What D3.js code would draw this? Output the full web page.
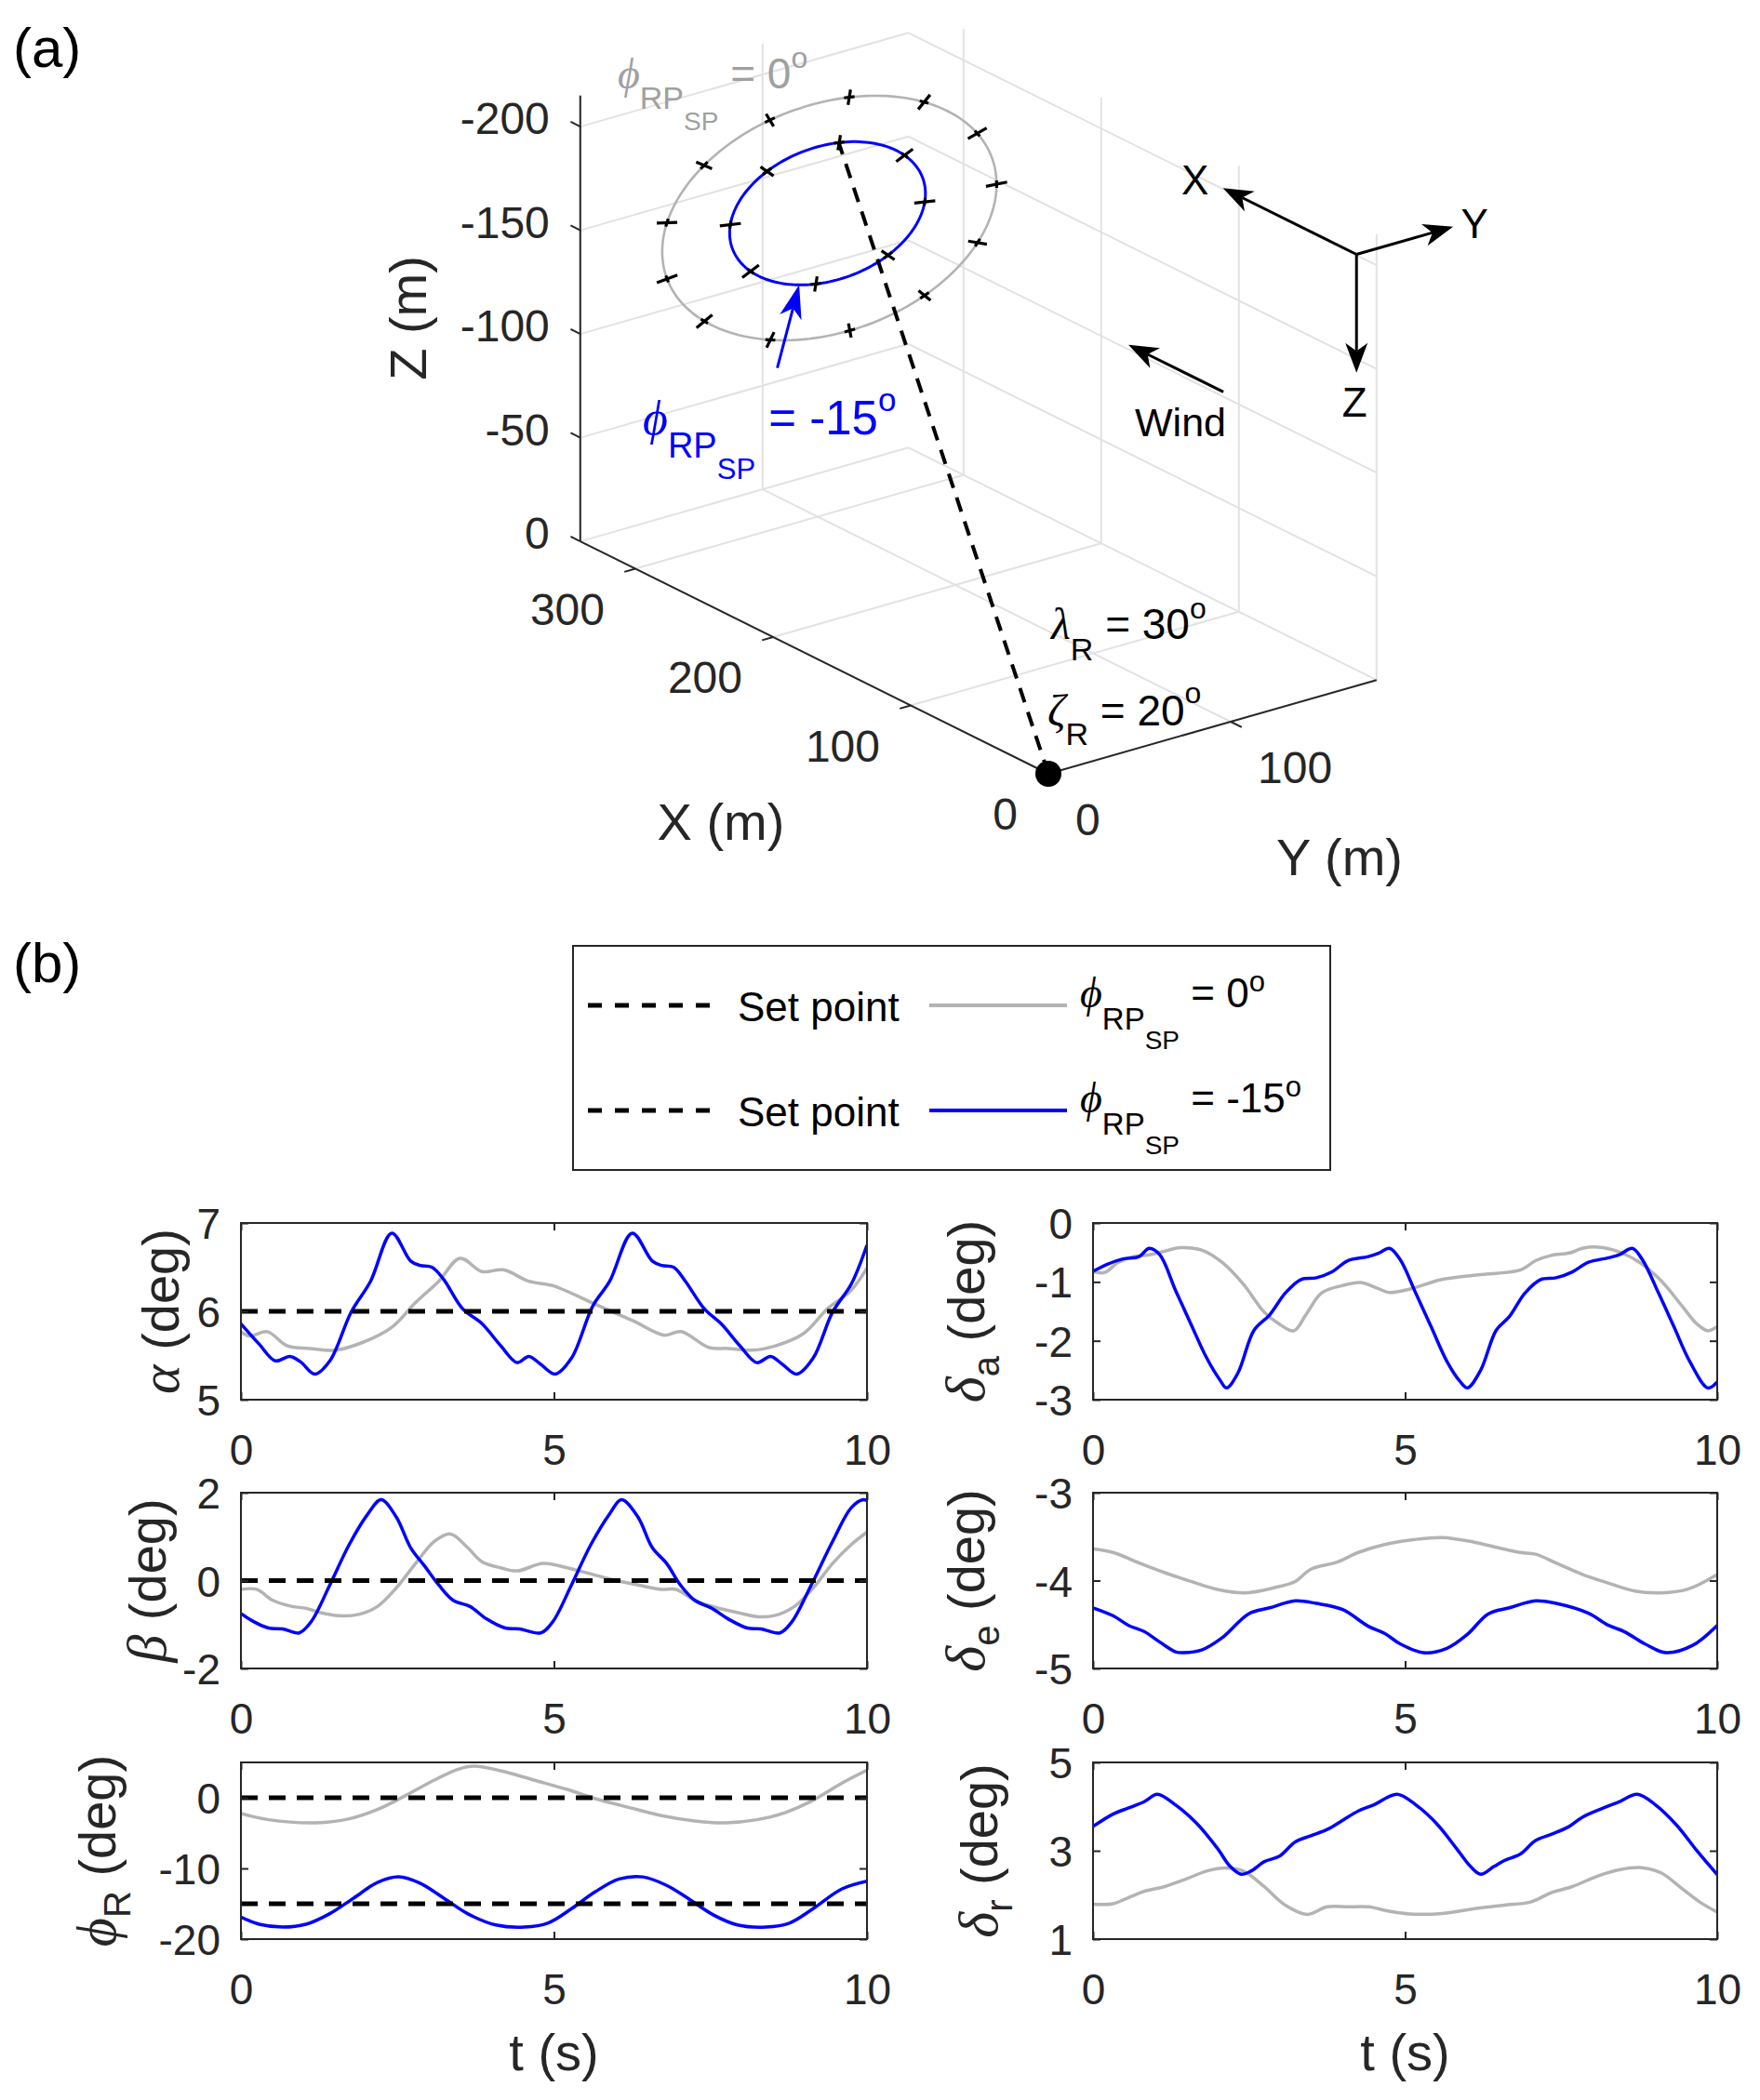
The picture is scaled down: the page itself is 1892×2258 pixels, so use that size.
<!DOCTYPE html>
<html><head><meta charset="utf-8">
<script src="https://cdn.jsdelivr.net/npm/d3@7/dist/d3.min.js"></script>
<style>
html,body{margin:0;padding:0;background:#fff;}
svg{display:block;}
text{white-space:pre;}
</style></head>
<body>
<svg id="fig" width="1892" height="2258" xmlns="http://www.w3.org/2000/svg"></svg>
<script>
// ======================= DATA =======================
// ---- Panel (a): 3-D view ----
const xLim3 = [0, 340];
const yLim3 = [0, 180];
const zLim3 = [-215, 0];
const xTicks3 = [0, 100, 200, 300];
const yTicks3 = [0, 100];
const zTicks3 = [0, -50, -100, -150, -200];
const tetherLambda = 30, tetherZeta = 20, tetherLength = 362;   // deg, deg, m
const pathCentreElev = 23, pathCentreAzim = 20;                   // deg
const pathGray = {dist: 355, radius: 76, markers: 13};
const pathBlue = {dist: 358, radius: 44.5, markers: 8};
const arrowTipAngle = 190;                 // deg on the blue circle
const arrowTailOffset = [0, -12, 37];      // m
const triadOrigin = [0, 169, -208];
const triadLengths = [97, 53, 57];
const windTail = [0, 96, -160];
const windLength = 69;

// ---- Panel (b): time histories [t (s), value (deg)] ----
const tDomain = [0, 10];
const tTicks = [0, 5, 10];

const alphaGray = [[0,5.77],[0.14,5.72],[0.42,5.77],[0.74,5.61],[1.1,5.58],[1.5,5.56],[1.95,5.65],[2.41,5.82],[2.79,6.10],[3.16,6.34],[3.5,6.60],[3.85,6.45],[4.19,6.47],[4.6,6.34],[4.98,6.29],[5.66,6.08],[6.27,5.89],[6.76,5.73],[7.03,5.77],[7.48,5.59],[7.78,5.58],[8.16,5.56],[8.54,5.61],[8.99,5.75],[9.37,6.03],[9.75,6.24],[10,6.49]];
const alphaBlue = [[0,5.86],[0.29,5.63],[0.55,5.44],[0.78,5.49],[0.95,5.43],[1.18,5.29],[1.42,5.44],[1.76,5.99],[2.07,6.34],[2.41,6.885],[2.71,6.57],[2.86,6.52],[3.05,6.50],[3.24,6.36],[3.54,6.03],[3.85,5.86],[4.15,5.61],[4.41,5.42],[4.6,5.49],[4.79,5.40],[5.02,5.29],[5.28,5.47],[5.62,6.06],[5.89,6.34],[6.25,6.885],[6.57,6.57],[6.72,6.52],[6.91,6.50],[7.1,6.34],[7.4,6.03],[7.67,5.86],[7.97,5.61],[8.24,5.42],[8.46,5.49],[8.65,5.40],[8.88,5.29],[9.14,5.47],[9.45,5.99],[9.75,6.31],[10,6.75]];
const alphaSet = [6];

const betaGray = [[0,-0.20],[0.25,-0.20],[0.51,-0.45],[0.82,-0.59],[1.04,-0.63],[1.27,-0.73],[1.57,-0.80],[1.88,-0.77],[2.18,-0.59],[2.48,-0.17],[2.79,0.39],[3.09,0.89],[3.35,1.06],[3.62,0.75],[3.85,0.43],[4.15,0.29],[4.41,0.22],[4.83,0.39],[5.21,0.29],[5.59,0.15],[5.97,0.01],[6.34,-0.10],[6.72,-0.20],[6.95,-0.20],[7.25,-0.45],[7.63,-0.63],[7.94,-0.73],[8.24,-0.82],[8.54,-0.79],[8.84,-0.59],[9.14,-0.17],[9.45,0.39],[9.75,0.82],[10,1.10]];
const betaBlue = [[0,-0.75],[0.21,-0.94],[0.44,-1.08],[0.67,-1.10],[0.93,-1.19],[1.12,-0.94],[1.42,-0.10],[1.73,0.82],[2.03,1.52],[2.24,1.84],[2.48,1.45],[2.71,0.75],[2.94,0.32],[3.16,-0.10],[3.39,-0.45],[3.66,-0.59],[3.92,-0.87],[4.22,-1.08],[4.45,-1.10],[4.79,-1.19],[4.98,-0.94],[5.28,-0.10],[5.59,0.82],[5.89,1.52],[6.08,1.84],[6.34,1.45],[6.57,0.75],[6.8,0.39],[7.02,-0.10],[7.25,-0.45],[7.52,-0.63],[7.78,-0.87],[8.09,-1.08],[8.31,-1.10],[8.61,-1.19],[8.8,-0.94],[9.11,-0.10],[9.45,0.89],[9.75,1.66],[9.94,1.84],[10,1.82]];
const betaSet = [0];

const phiGray = [[0,-2.24],[0.44,-3.11],[1.2,-3.55],[1.73,-2.98],[2.18,-1.67],[2.63,0.31],[3.09,2.50],[3.47,4.04],[3.73,4.47],[4.15,3.82],[4.68,2.50],[5.21,1.18],[5.66,-0.13],[6.19,-1.36],[6.72,-2.54],[7.25,-3.29],[7.74,-3.55],[8.24,-3.11],[8.69,-2.11],[9.14,-0.35],[9.6,2.06],[10,3.9]];
const phiBlue = [[0,-16.9],[0.29,-17.9],[0.67,-18.3],[1.04,-17.9],[1.42,-16.4],[1.8,-14.2],[2.18,-12.0],[2.52,-11.2],[2.86,-12.1],[3.24,-14.2],[3.62,-16.4],[4.07,-18.0],[4.53,-18.3],[4.91,-17.7],[5.28,-15.7],[5.66,-13.3],[6.04,-11.5],[6.42,-11.2],[6.8,-12.4],[7.17,-14.4],[7.55,-16.6],[7.93,-18.0],[8.39,-18.3],[8.77,-17.7],[9.14,-15.7],[9.6,-12.9],[10,-11.8]];
const phiSet = [0, -15];

const deltaAGray = [[0,-0.83],[0.19,-0.84],[0.4,-0.67],[0.65,-0.57],[0.9,-0.54],[1.11,-0.49],[1.4,-0.42],[1.74,-0.46],[2.07,-0.67],[2.41,-1.04],[2.74,-1.51],[2.99,-1.72],[3.22,-1.83],[3.41,-1.56],[3.66,-1.19],[4.0,-1.06],[4.29,-1.01],[4.58,-1.12],[4.75,-1.18],[5.08,-1.12],[5.59,-0.96],[6.17,-0.88],[6.84,-0.80],[7.09,-0.64],[7.34,-0.55],[7.63,-0.51],[7.84,-0.43],[8.09,-0.41],[8.43,-0.49],[8.76,-0.67],[9.1,-0.98],[9.43,-1.40],[9.68,-1.72],[9.85,-1.83],[10,-1.76]];
const deltaABlue = [[0,-0.82],[0.23,-0.70],[0.48,-0.61],[0.74,-0.57],[0.9,-0.43],[1.07,-0.54],[1.32,-1.14],[1.57,-1.72],[1.82,-2.29],[2.03,-2.66],[2.14,-2.80],[2.32,-2.55],[2.58,-1.82],[2.83,-1.56],[3.08,-1.19],[3.33,-0.96],[3.58,-0.93],[3.83,-0.83],[4.08,-0.64],[4.41,-0.57],[4.58,-0.51],[4.75,-0.43],[4.92,-0.62],[5.17,-1.19],[5.42,-1.77],[5.67,-2.35],[5.88,-2.69],[6.0,-2.80],[6.21,-2.50],[6.46,-1.82],[6.67,-1.59],[6.92,-1.19],[7.17,-0.96],[7.42,-0.93],[7.68,-0.83],[7.93,-0.67],[8.26,-0.59],[8.43,-0.54],[8.64,-0.43],[8.8,-0.62],[9.06,-1.19],[9.31,-1.77],[9.56,-2.35],[9.85,-2.80],[10,-2.70]];

const deltaEGray = [[0,-3.64],[0.32,-3.68],[0.74,-3.80],[1.15,-3.91],[1.57,-4.01],[1.99,-4.10],[2.45,-4.14],[2.91,-4.08],[3.24,-4.01],[3.49,-3.87],[3.91,-3.79],[4.25,-3.68],[4.67,-3.59],[5.08,-3.54],[5.59,-3.51],[6.09,-3.56],[6.51,-3.63],[6.84,-3.68],[7.09,-3.70],[7.42,-3.80],[7.84,-3.93],[8.26,-4.03],[8.68,-4.12],[9.1,-4.14],[9.52,-4.10],[10,-3.93]];
const deltaEBlue = [[0,-4.31],[0.32,-4.40],[0.57,-4.51],[0.82,-4.58],[1.07,-4.70],[1.32,-4.81],[1.45,-4.82],[1.74,-4.79],[2.07,-4.65],[2.49,-4.38],[2.83,-4.31],[3.24,-4.23],[3.58,-4.26],[4.0,-4.33],[4.41,-4.52],[4.67,-4.60],[4.92,-4.72],[5.29,-4.82],[5.67,-4.77],[6.0,-4.61],[6.33,-4.38],[6.67,-4.31],[7.09,-4.23],[7.42,-4.26],[7.93,-4.37],[8.26,-4.51],[8.51,-4.58],[8.84,-4.72],[9.18,-4.82],[9.6,-4.74],[10,-4.51]];

const deltaRGray = [[0,1.79],[0.32,1.80],[0.57,1.94],[0.82,2.08],[1.15,2.19],[1.49,2.36],[1.82,2.54],[2.12,2.61],[2.41,2.54],[2.74,2.19],[3.08,1.77],[3.43,1.56],[3.75,1.73],[4.08,1.73],[4.41,1.73],[4.75,1.63],[5.08,1.57],[5.59,1.58],[6.17,1.70],[6.59,1.77],[7.01,1.84],[7.34,2.05],[7.68,2.19],[8.09,2.43],[8.43,2.57],[8.76,2.62],[9.1,2.50],[9.43,2.15],[9.72,1.84],[10,1.61]];
const deltaRBlue = [[0,3.55],[0.32,3.83],[0.57,3.97],[0.82,4.11],[1.03,4.28],[1.32,4.04],[1.66,3.62],[1.99,3.06],[2.2,2.64],[2.37,2.47],[2.53,2.54],[2.74,2.75],[2.99,2.88],[3.24,3.20],[3.49,3.34],[3.75,3.48],[4.0,3.69],[4.25,3.90],[4.5,4.04],[4.87,4.28],[5.17,4.04],[5.5,3.62],[5.84,3.02],[6.05,2.64],[6.21,2.47],[6.42,2.64],[6.59,2.78],[6.84,2.92],[7.09,3.23],[7.34,3.37],[7.63,3.55],[7.84,3.76],[8.18,3.97],[8.43,4.11],[8.72,4.28],[9.01,4.04],[9.35,3.58],[9.68,2.99],[10,2.46]];

const legendValues = ['0', '-15'];

// ======================= STYLE / LAYOUT =======================
const FONT = '"Liberation Sans", Arial, Helvetica, sans-serif';
const GREEK = '"Liberation Serif", "DejaVu Serif", serif';
const AXC = '#262626';
const GRAYC = '#b3b3b3';
const GRAYTXT = '#a0a0a0';
const BLUEC = '#0000ff';

const svg = d3.select('#fig');
svg.append('rect').attr('width',1892).attr('height',2258).attr('fill','#fff');

function rich(g, x, y, parts, color) {
  const t = g.append('text').attr('x', x).attr('y', y).attr('fill', color).attr('font-family', FONT);
  parts.forEach(p => {
    const s = t.append('tspan').attr('font-size', p.size).attr('y', y + (p.dy || 0)).text(p.text);
    if (p.greek) s.attr('font-family', GREEK).attr('font-style', 'italic');
  });
  return t;
}
function arrow(g, from, to, len, wid, color, sw) {
  const dx = to[0]-from[0], dy = to[1]-from[1], L = Math.hypot(dx, dy);
  const ux = dx/L, uy = dy/L, nx = -uy, ny = ux;
  const bx = to[0]-ux*len, by = to[1]-uy*len;
  const mx = to[0]-ux*len*0.72, my = to[1]-uy*len*0.72;
  g.append('line').attr('x1',from[0]).attr('y1',from[1]).attr('x2',mx).attr('y2',my)
    .attr('stroke',color).attr('stroke-width',sw);
  const pts = [to, [bx+nx*wid/2, by+ny*wid/2], [mx, my], [bx-nx*wid/2, by-ny*wid/2]];
  g.append('path').attr('d','M'+pts.map(p=>p.join(',')).join('L')+'Z').attr('fill',color);
}

// ======================= PANEL (a) =======================
const gA = svg.append('g');
const origin2d = [1127, 832];
const sXpx = d3.scaleLinear().domain([0,100]).range([0,-148]);
const sXpy = d3.scaleLinear().domain([0,100]).range([0,-73.5]);
const sYpx = d3.scaleLinear().domain([0,100]).range([0,196]);
const sYpy = d3.scaleLinear().domain([0,100]).range([0,-56]);
const sZpy = d3.scaleLinear().domain([0,-100]).range([0,-223]);
const P = p => [origin2d[0] + sXpx(p[0]) + sYpx(p[1]), origin2d[1] + sXpy(p[0]) + sYpy(p[1]) + sZpy(p[2])];
const line3 = d3.line().x(d => P(d)[0]).y(d => P(d)[1]);
const add3 = (a, b, k=1) => [a[0]+k*b[0], a[1]+k*b[1], a[2]+k*b[2]];

// grid
const X1 = xLim3[1], Y1 = yLim3[1], Z0 = zLim3[0];
const gridSegs = [];
xTicks3.filter(x => x > 0).forEach(x => gridSegs.push([[x,0,0],[x,Y1,0]]));
yTicks3.filter(y => y > 0).forEach(y => gridSegs.push([[0,y,0],[X1,y,0]]));
yTicks3.forEach(y => gridSegs.push([[X1,y,0],[X1,y,Z0]]));
zTicks3.forEach(z => gridSegs.push([[X1,0,z],[X1,Y1,z]]));
xTicks3.forEach(x => gridSegs.push([[x,Y1,0],[x,Y1,Z0]]));
zTicks3.forEach(z => gridSegs.push([[0,Y1,z],[X1,Y1,z]]));
gA.append('g').selectAll('path').data(gridSegs).join('path')
  .attr('d', line3).attr('stroke', '#e2e2e2').attr('stroke-width', 2).attr('fill','none');

// axes lines
const axSegs = [[[0,0,0],[X1,0,0]], [[0,0,0],[0,Y1,0]], [[X1,0,0],[X1,0,Z0]]];
gA.append('g').selectAll('path').data(axSegs).join('path')
  .attr('d', line3).attr('stroke', AXC).attr('stroke-width', 2).attr('fill','none');
// ticks
const tickSegs = [];
xTicks3.forEach(x => tickSegs.push([[x,0,0],[x,-6,0]]));
yTicks3.forEach(y => tickSegs.push([[0,y,0],[-8,y,0]]));
zTicks3.forEach(z => tickSegs.push([[X1,0,z],[X1+7,0,z]]));
gA.append('g').selectAll('path').data(tickSegs).join('path')
  .attr('d', line3).attr('stroke', AXC).attr('stroke-width', 2).attr('fill','none');
// tick labels
const tl3 = gA.append('g').attr('font-family', FONT).attr('font-size', 48).attr('fill', AXC);
zTicks3.forEach(z => { const p = P([X1,0,z]);
  tl3.append('text').attr('x', p[0]-33).attr('y', p[1]+8).attr('text-anchor','end').text(String(z)); });
xTicks3.forEach(x => { const p = P([x,0,0]);
  tl3.append('text').attr('x', p[0]-33).attr('y', p[1]+60).attr('text-anchor','end').text(String(x)); });
yTicks3.forEach(y => { const p = P([0,y,0]);
  tl3.append('text').attr('x', p[0]+29).attr('y', p[1]+66).attr('text-anchor','start').text(String(y)); });
// axis labels
const al3 = gA.append('g').attr('font-family', FONT).attr('font-size', 56).attr('fill', AXC).attr('text-anchor','middle');
al3.append('text').attr('x', 775).attr('y', 903).text('X (m)');
al3.append('text').attr('x', 1440).attr('y', 941).text('Y (m)');
al3.append('text').attr('transform', 'translate(458,342) rotate(-90)').text('Z (m)');

// flight path circles
const rad = d => d * Math.PI / 180;
const cEl = rad(pathCentreElev), cAz = rad(pathCentreAzim);
const cDir = [Math.cos(cEl)*Math.cos(cAz), Math.cos(cEl)*Math.sin(cAz), -Math.sin(cEl)];
const e1 = [-Math.sin(cAz), Math.cos(cAz), 0];
const e2 = [-Math.sin(cEl)*Math.cos(cAz), -Math.sin(cEl)*Math.sin(cAz), -Math.cos(cEl)];
function circPt(path, thDeg) {
  const th = rad(thDeg), C = cDir.map(v => v*path.dist), R = path.radius;
  return [0,1,2].map(i => C[i] + R*(Math.cos(th)*e2[i] + Math.sin(th)*e1[i]));
}
function radialDir(th) { th = rad(th); return [0,1,2].map(i => Math.cos(th)*e2[i] + Math.sin(th)*e1[i]); }
function tangDir(th) { th = rad(th); return [0,1,2].map(i => -Math.sin(th)*e2[i] + Math.cos(th)*e1[i]); }
const angles = d3.range(0, 361, 2);
gA.append('path').datum(angles.map(a => circPt(pathGray, a))).attr('d', line3)
  .attr('fill','none').attr('stroke', GRAYC).attr('stroke-width', 2.6);
gA.append('path').datum(angles.map(a => circPt(pathBlue, a))).attr('d', line3)
  .attr('fill','none').attr('stroke', BLUEC).attr('stroke-width', 3);

// tether
const tDir = [Math.cos(rad(tetherLambda))*Math.cos(rad(tetherZeta)), Math.cos(rad(tetherLambda))*Math.sin(rad(tetherZeta)), -Math.sin(rad(tetherLambda))];
gA.append('path').datum([[0,0,0], tDir.map(v => v*tetherLength)]).attr('d', line3)
  .attr('stroke', '#000').attr('stroke-width', 4).attr('stroke-dasharray', '16,11').attr('fill','none');

// markers on paths
[pathGray, pathBlue].forEach(path => {
  d3.range(path.markers).forEach(k => {
    const th = k * 360 / path.markers;
    const c = circPt(path, th), r = radialDir(th), t = tangDir(th);
    gA.append('path').datum([add3(c, r, -4.8), add3(c, r, 4.8)]).attr('d', line3)
      .attr('stroke','#000').attr('stroke-width', 3.2);
    gA.append('path').datum([add3(c, t, -2.4), add3(c, t, 2.4)]).attr('d', line3)
      .attr('stroke','#000').attr('stroke-width', 3.2);
  });
});

// ground station
const o = P([0,0,0]);
gA.append('circle').attr('cx', o[0]).attr('cy', o[1]).attr('r', 14).attr('fill', '#000');

// blue annotation arrow
const tip3 = circPt(pathBlue, arrowTipAngle);
arrow(gA, P(add3(tip3, arrowTailOffset)), P(tip3), 36, 24, BLUEC, 3);

// labels
rich(gA, 664, 95, [{text:'ϕ', size:46, greek:true}, {text:'RP', size:34, dy:22}, {text:'SP', size:28, dy:45}, {text:' = 0', size:46}, {text:'o', size:32, dy:-22}], GRAYTXT);
rich(gA, 691, 467, [{text:'ϕ', size:52, greek:true}, {text:'RP', size:38, dy:25}, {text:'SP', size:31, dy:48}, {text:' = -15', size:51}, {text:'o', size:35, dy:-25}], BLUEC);
rich(gA, 1130, 687, [{text:'λ', size:48, greek:true}, {text:'R', size:34, dy:23}, {text:' = 30', size:46}, {text:'o', size:32, dy:-22}], '#000');
rich(gA, 1126, 780, [{text:'ζ', size:48, greek:true}, {text:'R', size:34, dy:21}, {text:' = 20', size:46}, {text:'o', size:32, dy:-24}], '#000');

// reference triad
const tri0 = P(triadOrigin);
const triTips = [
  P(add3(triadOrigin, [triadLengths[0],0,0])),
  P(add3(triadOrigin, [0,triadLengths[1],0])),
  P(add3(triadOrigin, [0,0,triadLengths[2]]))];
triTips.forEach(tp => arrow(gA, tri0, tp, 32, 24, '#000', 3));
const triLab = gA.append('g').attr('font-family', FONT).attr('font-size', 44).attr('fill', '#000').attr('text-anchor','middle');
triLab.append('text').attr('x', triTips[0][0]-30).attr('y', triTips[0][1]+7).text('X');
triLab.append('text').attr('x', triTips[1][0]+23).attr('y', triTips[1][1]+12).text('Y');
triLab.append('text').attr('x', triTips[2][0]-2).attr('y', triTips[2][1]+47).text('Z');

// wind arrow
arrow(gA, P(windTail), P(add3(windTail, [windLength,0,0])), 32, 24, '#000', 3);
gA.append('text').attr('x', 1220).attr('y', 469).attr('font-family', FONT).attr('font-size', 43).attr('fill','#000').text('Wind');

// panel letters
svg.append('text').attr('x', 14).attr('y', 72).attr('font-family', FONT).attr('font-size', 60).attr('fill','#000').text('(a)');
svg.append('text').attr('x', 14).attr('y', 1056).attr('font-family', FONT).attr('font-size', 60).attr('fill','#000').text('(b)');

// ======================= LEGEND =======================
const gL = svg.append('g');
gL.append('rect').attr('x', 616).attr('y', 1017).attr('width', 814).attr('height', 241)
  .attr('fill', '#fff').attr('stroke', AXC).attr('stroke-width', 2);
const legRows = [1081, 1194];
legendValues.forEach((v, i) => {
  const y = legRows[i];
  gL.append('line').attr('x1', 632).attr('x2', 766).attr('y1', y).attr('y2', y)
    .attr('stroke', '#000').attr('stroke-width', 5).attr('stroke-dasharray', '15,14');
  gL.append('text').attr('x', 793).attr('y', y+17).attr('font-family', FONT).attr('font-size', 44).attr('fill','#000').text('Set point');
  gL.append('line').attr('x1', 999).attr('x2', 1147).attr('y1', y).attr('y2', y)
    .attr('stroke', i === 0 ? GRAYC : BLUEC).attr('stroke-width', 4);
  rich(gL, 1161, y+2, [{text:'ϕ', size:46, greek:true}, {text:'RP', size:33, dy:24}, {text:'SP', size:28, dy:45}, {text:' = ' + v, size:44}, {text:'o', size:31, dy:-17}], '#000');
});

// ======================= PANEL (b) =======================
const cols = [[259, 932], [1175, 1846]];
const rows = [[1315, 1505], [1605, 1794], [1895, 2085]];
const panels = [
  {key:'alpha', col:0, row:0, domain:[5,7], ticks:[5,6,7], gray:alphaGray, blue:alphaBlue, set:alphaSet, sym:'α', sub:null, lx:192},
  {key:'beta', col:0, row:1, domain:[-2,2], ticks:[-2,0,2], gray:betaGray, blue:betaBlue, set:betaSet, sym:'β', sub:null, lx:178},
  {key:'phi', col:0, row:2, domain:[-20,5], ticks:[-20,-10,0], gray:phiGray, blue:phiBlue, set:phiSet, sym:'ϕ', sub:'R', lx:124},
  {key:'da', col:1, row:0, domain:[-3,0], ticks:[-3,-2,-1,0], gray:deltaAGray, blue:deltaABlue, set:[], sym:'δ', sub:'a', lx:1058},
  {key:'de', col:1, row:1, domain:[-5,-3], ticks:[-5,-4,-3], gray:deltaEGray, blue:deltaEBlue, set:[], sym:'δ', sub:'e', lx:1058},
  {key:'dr', col:1, row:2, domain:[1,5], ticks:[1,3,5], gray:deltaRGray, blue:deltaRBlue, set:[], sym:'δ', sub:'r', lx:1072}
];
const defs = svg.append('defs');
panels.forEach(p => {
  const [x0, x1] = cols[p.col], [y0, y1] = rows[p.row];
  const xs = d3.scaleLinear().domain(tDomain).range([x0, x1]);
  const ys = d3.scaleLinear().domain(p.domain).range([y1, y0]);
  const g = svg.append('g');
  defs.append('clipPath').attr('id', 'clip-' + p.key).append('rect')
    .attr('x', x0).attr('y', y0).attr('width', x1-x0).attr('height', y1-y0);
  const lg = g.append('g').attr('clip-path', `url(#clip-${p.key})`);
  const ln = d3.line().x(d => xs(d[0])).y(d => ys(d[1])).curve(d3.curveCatmullRom.alpha(0.5));
  lg.append('path').datum(p.gray).attr('d', ln).attr('fill','none').attr('stroke', GRAYC).attr('stroke-width', 3.5);
  lg.append('path').datum(p.blue).attr('d', ln).attr('fill','none').attr('stroke', BLUEC).attr('stroke-width', 3.5);
  p.set.forEach(v => lg.append('line').attr('x1', x0).attr('x2', x1).attr('y1', ys(v)).attr('y2', ys(v))
    .attr('stroke','#000').attr('stroke-width', 5).attr('stroke-dasharray', '18,12'));

  const styleAxis = sel => {
    sel.attr('font-family', FONT).attr('font-size', 46);
    sel.select('.domain').remove();
    sel.selectAll('line').attr('stroke', AXC).attr('stroke-width', 2);
    sel.selectAll('text').attr('fill', AXC);
  };
  const fmt = d => String(d);
  g.append('g').attr('transform', `translate(0,${y1})`)
    .call(d3.axisBottom(xs).tickValues(tTicks).tickSizeInner(-8).tickSizeOuter(0).tickPadding(37).tickFormat(fmt)).call(styleAxis);
  g.append('g').attr('transform', `translate(0,${y0})`)
    .call(d3.axisTop(xs).tickValues(tTicks).tickSizeInner(-8).tickSizeOuter(0).tickFormat('')).call(styleAxis);
  const gy = g.append('g').attr('transform', `translate(${x0},0)`)
    .call(d3.axisLeft(ys).tickValues(p.ticks).tickSizeInner(-8).tickSizeOuter(0).tickPadding(22).tickFormat(fmt)).call(styleAxis);
  gy.selectAll('text').attr('dy', '0.36em');
  g.append('g').attr('transform', `translate(${x1},0)`)
    .call(d3.axisRight(ys).tickValues(p.ticks).tickSizeInner(-8).tickSizeOuter(0).tickFormat('')).call(styleAxis);
  g.append('rect').attr('x', x0).attr('y', y0).attr('width', x1-x0).attr('height', y1-y0)
    .attr('fill','none').attr('stroke', AXC).attr('stroke-width', 2);

  // y label (relative shifts keep a single text chunk so centring works)
  const yl = g.append('text').attr('transform', `translate(${p.lx},${(y0+y1)/2}) rotate(-90)`)
    .attr('text-anchor','middle').attr('font-family', FONT).attr('font-size', 56).attr('fill', AXC);
  yl.append('tspan').attr('font-family', GREEK).attr('font-style','italic').attr('font-size', 60).text(p.sym);
  if (p.sub) yl.append('tspan').attr('font-size', 40).attr('dy', 16).text(p.sub);
  yl.append('tspan').attr('dy', p.sub ? -16 : 0).text(' (deg)');

  if (p.row === 2) {
    g.append('text').attr('x', (x0+x1)/2).attr('y', 2226).attr('text-anchor','middle')
      .attr('font-family', FONT).attr('font-size', 56).attr('fill', AXC).text('t (s)');
  }
});
</script>
</body></html>
